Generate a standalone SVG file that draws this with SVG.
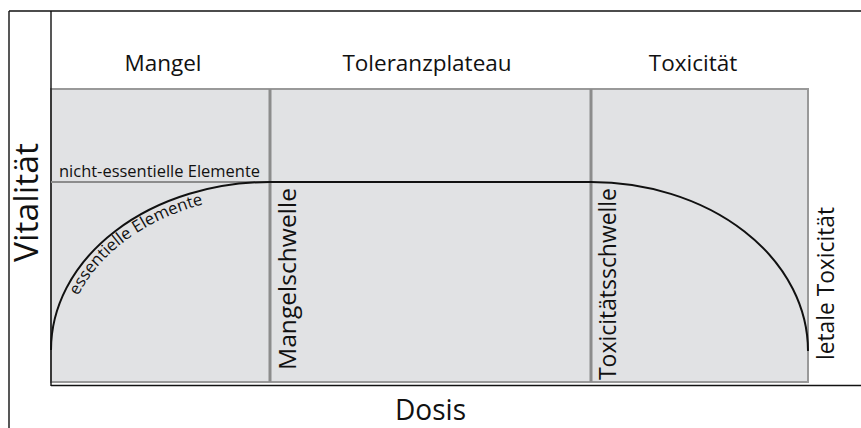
<svg xmlns="http://www.w3.org/2000/svg" width="861" height="428" viewBox="0 0 861 428">
  <style>
    .hdr { font-family: "Open Sans", "Liberation Sans", sans-serif; font-size: 22.5px; fill: #111; text-anchor: middle; }
    .lbl { font-family: "Open Sans", "Liberation Sans", sans-serif; font-size: 23px; fill: #111; }
    .big { font-family: "Open Sans", "Liberation Sans", sans-serif; font-size: 32px; fill: #111; text-anchor: middle; }
    .small { font-family: "Open Sans", "Liberation Sans", sans-serif; font-size: 16px; fill: #111; }
    .frame { stroke: #111; stroke-width: 1.4; fill: none; }
    .divider { stroke: #8c8c8c; stroke-width: 3; fill: none; }
    .curve { stroke: #111; stroke-width: 2; fill: none; }
  </style>
  <defs>
    <path id="essPath" d="M 65 350 A 205 154 0 0 1 270 196"/>
  </defs>
  <rect width="861" height="428" fill="#ffffff"/>

  <g id="frame">
    <line class="frame" x1="9" y1="11" x2="861" y2="11"/>
    <line class="frame" x1="9" y1="11" x2="9" y2="428"/>
  </g>

  <g id="plot-area">
    <rect x="51" y="89" width="757" height="293" fill="#e1e2e4" stroke="#999999" stroke-width="2"/>
  </g>

  <g id="axes">
    <line class="frame" x1="51" y1="11" x2="51" y2="386" stroke-width="1.6"/>
    <line class="frame" x1="51" y1="385.5" x2="861" y2="385.5" stroke-width="1.6"/>
  </g>

  <g id="zone-mangel">
    <text class="hdr" x="163" y="70.5">Mangel</text>
  </g>
  <g id="zone-toleranzplateau">
    <text class="hdr" x="427" y="70.5">Toleranzplateau</text>
  </g>
  <g id="zone-toxicitaet">
    <text class="hdr" x="693" y="70.5">Toxicität</text>
  </g>

  <g id="mangelschwelle">
    <line class="divider" x1="270" y1="89" x2="270" y2="382"/>
    <text class="lbl" transform="translate(296,370) rotate(-90)" textLength="182" lengthAdjust="spacingAndGlyphs">Mangelschwelle</text>
  </g>
  <g id="toxicitaetsschwelle">
    <line class="divider" x1="591" y1="89" x2="591" y2="382"/>
    <text class="lbl" transform="translate(616,380) rotate(-90)" textLength="192" lengthAdjust="spacingAndGlyphs">Toxicitätsschwelle</text>
  </g>
  <g id="letale-toxicitaet">
    <text class="lbl" transform="translate(834,360) rotate(-90)" textLength="153" lengthAdjust="spacingAndGlyphs">letale Toxicität</text>
  </g>

  <g id="nicht-essentielle-elemente">
    <line x1="51" y1="182" x2="270" y2="182" stroke="#8c8c8c" stroke-width="2"/>
    <text class="small" x="59" y="176.7" textLength="201" lengthAdjust="spacingAndGlyphs">nicht-essentielle Elemente</text>
  </g>

  <g id="connectors">
    <path class="curve" d="M 51 350 A 219 168 0 0 1 270 182 H 591 A 217 169 0 0 1 808 351"/>
  </g>

  <g id="essentielle-elemente">
    <text class="small" style="font-size:16.5px"><textPath href="#essPath" startOffset="56" textLength="160" lengthAdjust="spacingAndGlyphs">essentielle Elemente</textPath></text>
  </g>

  <g id="axis-labels">
    <text class="big" transform="translate(38,202.5) rotate(-90)" textLength="119" lengthAdjust="spacingAndGlyphs">Vitalität</text>
    <text class="big" x="430.5" y="420" style="font-size:30px" textLength="71" lengthAdjust="spacingAndGlyphs">Dosis</text>
  </g>
</svg>
